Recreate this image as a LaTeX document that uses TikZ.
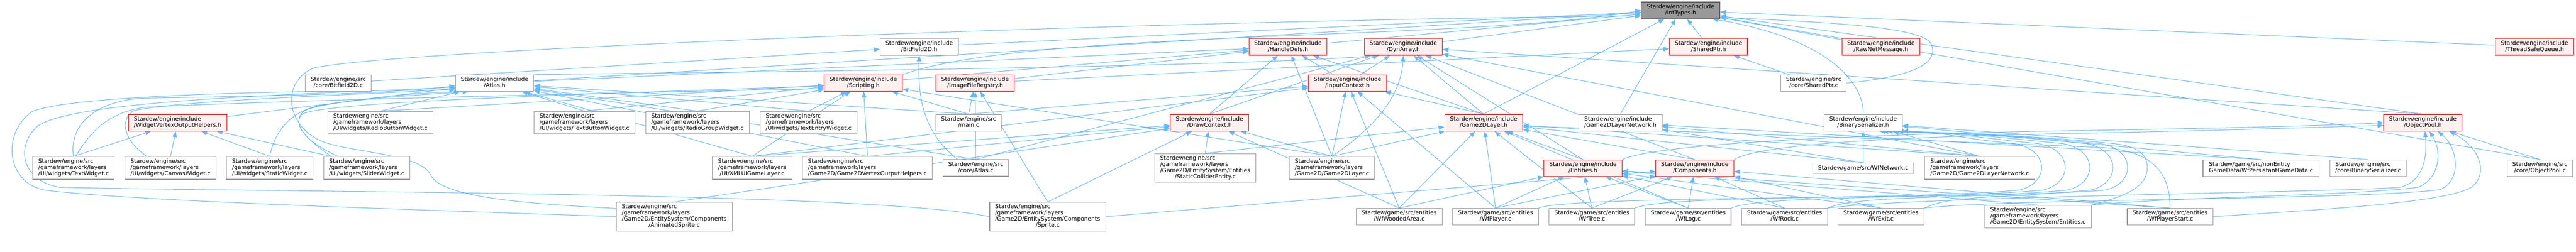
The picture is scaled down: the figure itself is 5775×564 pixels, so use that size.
\documentclass[tikz,border=0pt]{standalone}
\usepackage{fontspec}
\setmainfont{DejaVu Sans}
\usetikzlibrary{arrows.meta,backgrounds}
\definecolor{eblue}{HTML}{63B8FF}
\definecolor{rfill}{HTML}{FFF0F0}
\definecolor{gborder}{HTML}{999999}
\definecolor{rootfill}{HTML}{999999}
\definecolor{rootborder}{HTML}{666666}
\newcommand\TwoL[2]{\begin{tabular}{@{}l@{}}#1\\\multicolumn{1}{@{}c@{}}{#2}\end{tabular}}
\newcommand\ThreeL[3]{\begin{tabular}{@{}l@{}}#1\\#2\\\multicolumn{1}{@{}c@{}}{#3}\end{tabular}}
\newcommand\FourL[4]{\begin{tabular}{@{}l@{}}#1\\#2\\#3\\\multicolumn{1}{@{}c@{}}{#4}\end{tabular}}
\newcommand\LoopBS[3]{\draw[dep] (#1) .. controls +(70,30) and (#2-300,-448) .. (#2-60,-426) .. controls (#2+8,-410) and (#2+8,-336) .. (#2-70,-322) .. controls (#2-250,-304) and (4420,-300) .. (bsh.#3);}
\tikzset{
  base/.style={rectangle, inner sep=0pt, line width=1.3pt, font=\fontsize{12.8}{13.7}\selectfont, text=black},
  file/.style={base, draw=gborder, fill=white},
  hot/.style={base, draw=red, fill=rfill},
  root/.style={base, draw=rootborder, fill=rootfill},
  sz/.style 2 args={minimum width=#1pt, minimum height=#2pt},
  dep/.style={draw=eblue, line width=1.2pt, -{Triangle[length=13pt,width=10pt]}}
}
\begin{document}
\begin{tikzpicture}[x=1pt,y=1pt]
\useasboundingbox (0,0) rectangle (5775,-564);
% rank 1
\node[root, sz={175.6}{37.3}] (iT) at (3767.5,-23.3) {\TwoL{Stardew/engine/include}{/IntTypes.h}};
% rank 2
\node[file, sz={175}{37.3}] (bf2h) at (2060.8,-105) {\TwoL{Stardew/engine/include}{/BitField2D.h}};
\node[hot, sz={175}{37.3}] (hd) at (2887.3,-105) {\TwoL{Stardew/engine/include}{/HandleDefs.h}};
\node[hot, sz={175}{37.3}] (da) at (3146,-105) {\TwoL{Stardew/engine/include}{/DynArray.h}};
\node[hot, sz={175}{37.3}] (sph) at (3830.2,-105) {\TwoL{Stardew/engine/include}{/SharedPtr.h}};
\node[hot, sz={175}{37.3}] (rnm) at (4216.8,-105) {\TwoL{Stardew/engine/include}{/RawNetMessage.h}};
\node[hot, sz={175}{37.3}] (tsq) at (5682,-105) {\TwoL{Stardew/engine/include}{/ThreadSafeQueue.h}};
% rank 3
\node[file, sz={147}{36.7}] (bfc) at (758.2,-186.3) {\TwoL{Stardew/engine/src}{/core/Bitfield2D.c}};
\node[file, sz={175}{36.7}] (ah) at (1108.8,-186.3) {\TwoL{Stardew/engine/include}{/Atlas.h}};
\node[hot, sz={175}{36.7}] (sc) at (1935.3,-186.3) {\TwoL{Stardew/engine/include}{/Scripting.h}};
\node[hot, sz={175}{36.7}] (ifr) at (2186,-186.3) {\TwoL{Stardew/engine/include}{/ImageFileRegstry.h}};
\node[hot, sz={175}{36.7}] (ic) at (3020.8,-186.3) {\TwoL{Stardew/engine/include}{/InputContext.h}};
\node[file, sz={146.7}{36.7}] (spc) at (4066,-186.3) {\TwoL{Stardew/engine/src}{/core/SharedPtr.c}};
% rank 4
\node[hot, sz={220.3}{37.3}] (wvo) at (398.2,-275) {\TwoL{Stardew/engine/include}{/WidgetVertexOutputHelpers.h}};
\node[file, sz={235.3}{50.7}] (rbw) at (852.7,-275) {\ThreeL{Stardew/engine/src}{/gameframework/layers}{/UI/widgets/RadioButtonWidget.c}};
\node[file, sz={227}{50.7}] (tbw) at (1310.2,-275) {\ThreeL{Stardew/engine/src}{/gameframework/layers}{/UI/widgets/TextButtonWidget.c}};
\node[file, sz={232.3}{50.7}] (rgw) at (1563.5,-275) {\ThreeL{Stardew/engine/src}{/gameframework/layers}{/UI/widgets/RadioGroupWidget.c}};
\node[file, sz={217.7}{50.7}] (tew) at (1812.8,-275) {\ThreeL{Stardew/engine/src}{/gameframework/layers}{/UI/widgets/TextEntryWidget.c}};
\node[file, sz={147}{37.3}] (mainc) at (2171.5,-275) {\TwoL{Stardew/engine/src}{/main.c}};
\node[hot, sz={175.3}{37.3}] (dc) at (2711.3,-275) {\TwoL{Stardew/engine/include}{/DrawContext.h}};
\node[hot, sz={174.7}{37.3}] (g2h) at (3326,-275) {\TwoL{Stardew/engine/include}{/Game2DLayer.h}};
\node[file, sz={186.7}{37.3}] (g2nh) at (3632.7,-275) {\TwoL{Stardew/engine/include}{/Game2DLayerNetwork.h}};
\node[file, sz={175}{37.3}] (bsh) at (4176.8,-275) {\TwoL{Stardew/engine/include}{/BinarySerializer.h}};
\node[hot, sz={175}{37.3}] (oph) at (5431.5,-275) {\TwoL{Stardew/engine/include}{/ObjectPool.h}};
% rank 5
\node[file, sz={183}{51}] (tw) at (164.8,-376.5) {\ThreeL{Stardew/engine/src}{/gameframework/layers}{/UI/widgets/TextWidget.c}};
\node[file, sz={204.3}{51}] (cw) at (382.2,-376.5) {\ThreeL{Stardew/engine/src}{/gameframework/layers}{/UI/widgets/CanvasWidget.c}};
\node[file, sz={193.7}{51}] (stw) at (604.8,-376.5) {\ThreeL{Stardew/engine/src}{/gameframework/layers}{/UI/widgets/StaticWidget.c}};
\node[file, sz={193.3}{51}] (slw) at (822.3,-376.5) {\ThreeL{Stardew/engine/src}{/gameframework/layers}{/UI/widgets/SliderWidget.c}};
\node[file, sz={179}{51}] (xml) at (1686.2,-376.5) {\ThreeL{Stardew/engine/src}{/gameframework/layers}{/UI/XMLUIGameLayer.c}};
\node[file, sz={290.7}{51}] (g2vo) at (1944.7,-376.5) {\ThreeL{Stardew/engine/src}{/gameframework/layers}{/Game2D/Game2DVertexOutputHelpers.c}};
\node[file, sz={147}{37}] (atc) at (2187.5,-376.5) {\TwoL{Stardew/engine/src}{/core/Atlas.c}};
\node[file, sz={226.7}{64.4}] (sce) at (2702,-376.5) {\FourL{Stardew/engine/src}{/gameframework/layers}{/Game2D/EntitySystem/Entities}{/StaticColliderEntity.c}};
\node[file, sz={190.7}{51}] (g2c) at (2986,-376.5) {\ThreeL{Stardew/engine/src}{/gameframework/layers}{/Game2D/Game2DLayer.c}};
\node[hot, sz={174.7}{37}] (enh) at (3548.7,-376.8) {\TwoL{Stardew/engine/include}{/Entities.h}};
\node[hot, sz={175}{37}] (coh) at (3799.5,-376.8) {\TwoL{Stardew/engine/include}{/Components.h}};
\node[file, sz={226.7}{23.4}] (wfn) at (4177,-377) {Stardew/game/src/WfNetwork.c};
\node[file, sz={247}{51}] (g2nc) at (4438.2,-376.5) {\ThreeL{Stardew/engine/src}{/gameframework/layers}{/Game2D/Game2DLayerNetwork.c}};
\node[file, sz={260.3}{37}] (wpg) at (5068.8,-376.8) {\TwoL{Stardew/game/src/nonEntity}{GameData/WfPersistantGameData.c}};
\node[file, sz={171}{37}] (bsc) at (5308.8,-376.8) {\TwoL{Stardew/engine/src}{/core/BinarySerializer.c}};
\node[file, sz={147}{37}] (opc) at (5694.2,-376.8) {\TwoL{Stardew/engine/src}{/core/ObjectPool.c}};
% rank 6
\node[file, sz={260.3}{64.4}] (asp) at (1511.5,-485.5) {\FourL{Stardew/engine/src}{/gameframework/layers}{/Game2D/EntitySystem/Components}{/AnimatedSprite.c}};
\node[file, sz={260}{64.4}] (spr) at (2348.7,-485.5) {\FourL{Stardew/engine/src}{/gameframework/layers}{/Game2D/EntitySystem/Components}{/Sprite.c}};
\node[file, sz={192.3}{37}] (wwa) at (3136.8,-485.5) {\TwoL{Stardew/game/src/entities}{/WfWoodedArea.c}};
\node[file, sz={192.3}{37}] (wpl) at (3352.8,-485.5) {\TwoL{Stardew/game/src/entities}{/WfPlayer.c}};
\node[file, sz={192}{37}] (wtr) at (3568.7,-485.5) {\TwoL{Stardew/game/src/entities}{/WfTree.c}};
\node[file, sz={192}{37}] (wlg) at (3784.7,-485.5) {\TwoL{Stardew/game/src/entities}{/WfLog.c}};
\node[file, sz={192.3}{37}] (wrk) at (4000.8,-485.5) {\TwoL{Stardew/game/src/entities}{/WfRock.c}};
\node[file, sz={192.3}{37}] (wex) at (4216.8,-485.5) {\TwoL{Stardew/game/src/entities}{/WfExit.c}};
\node[file, sz={239}{50.4}] (ec) at (4568.8,-485.5) {\ThreeL{Stardew/engine/src}{/gameframework/layers}{/Game2D/EntitySystem/Entities.c}};
\node[file, sz={192}{37}] (wps) at (4865,-485.5) {\TwoL{Stardew/game/src/entities}{/WfPlayerStart.c}};

\begin{scope}[on background layer]
% into IntTypes.h
\draw[dep] (bf2h) -- (iT);
\draw[dep] (hd) -- (iT);
\draw[dep] (da) -- (iT);
\draw[dep] (sph) -- (iT);
\draw[dep] (rnm) -- (iT);
\draw[dep] (tsq) -- (iT);
\draw[dep] (ah) -- (iT);
\draw[dep] (sc.north east) .. controls (2305,-65) and (3286,-93) .. (iT.west);
\draw[dep] (g2h.north) -- (iT);
\draw[dep] (g2nh.north) -- (iT);
\draw[dep] (bsh.north) .. controls (4180,-200) and (4120,-90) .. (iT.-15);
\draw[dep] (oph.north) -- (iT);
\draw[dep] (opc.north) -- (iT);
\draw[dep] (spc.east) .. controls (4300,-170) and (4345,-140) .. (4330,-100) .. controls (4315,-60) and (4100,-50) .. (iT.-10);
\draw[dep] (asp.172) .. controls (1150,-455) and (990,-440) .. (965,-392) .. controls (945,-345) and (790,-342) .. (725,-318) .. controls (640,-285) and (628,-182) .. (705,-152) .. controls (900,-110) and (2600,-45) .. (iT.-172);
% rank 3 sources
\draw[dep] (bfc) -- (bf2h);
\draw[dep] (ah) -- (hd);
\draw[dep] (ah.north east) .. controls (1800,-160) and (2750,-150) .. (da.-160);
\draw[dep] (sc) -- (hd);
\draw[dep] (ifr) -- (hd);
\draw[dep] (ifr) -- (sph);
\draw[dep] (ic) -- (hd);
\draw[dep] (ic) -- (da);
\draw[dep] (spc) -- (sph);
% rank 4 sources
\draw[dep] (wvo) -- (ah);
\draw[dep] (rbw.north) -- (ah);
\draw[dep] (rbw.north) -- (sc);
\draw[dep] (tbw.north) -- (ah);
\draw[dep] (tbw.north) -- (sc);
\draw[dep] (rgw.north) -- (ah);
\draw[dep] (rgw.north) -- (sc);
\draw[dep] (tew.north) -- (sc);
\draw[dep] (tew.north) -- (ah);
\draw[dep] (mainc.north) -- (sc);
\draw[dep] (mainc.north) -- (ifr);
\draw[dep] (mainc.north) -- (ic);
\draw[dep] (mainc.north) -- (ah);
\draw[dep] (dc.north) -- (hd);
\draw[dep] (dc.north) -- (da);
\draw[dep] (g2h.north) -- (hd);
\draw[dep] (g2h.north) -- (da);
\draw[dep] (g2h.north) -- (ic);
\draw[dep] (oph.north) -- (da);
% rank 5 sources
\draw[dep] (tw.north) -- (wvo);
\draw[dep] (tw.north) .. controls (155,-290) and (200,-228) .. (320,-220) .. controls (600,-215) and (850,-212) .. (ah.-176);
\draw[dep] (tw.80) .. controls (200,-300) and (240,-250) .. (330,-240) .. controls (700,-222) and (1500,-206) .. (sc.-172);
\draw[dep] (cw.north) -- (wvo);
\draw[dep] (cw.154) .. controls (285,-320) and (262,-272) .. (300,-248) .. controls (420,-222) and (850,-212) .. (ah.-172);
\draw[dep] (stw.north) -- (wvo);
\draw[dep] (stw.north) .. controls (612,-310) and (640,-250) .. (720,-236) .. controls (850,-215) and (950,-208) .. (ah.-166);
\draw[dep] (slw.162) -- (wvo);
\draw[dep] (slw.158) .. controls (690,-320) and (650,-280) .. (680,-250) .. controls (720,-225) and (950,-212) .. (ah.-162);
\draw[dep] (slw.162) .. controls (700,-320) and (655,-285) .. (675,-258) .. controls (700,-228) and (1300,-212) .. (sc.-176);
\draw[dep] (xml.north) -- (ah);
\draw[dep] (xml.north) -- (sc);
\draw[dep] (xml.north) -- (dc);
\draw[dep] (xml.north) -- (ic);
\draw[dep] (g2vo.north) -- (dc);
\draw[dep] (g2vo.north) -- (ah);
\draw[dep] (g2vo.north) -- (sc);
\draw[dep] (atc.155) .. controls (2075,-300) and (2057,-230) .. (bf2h.south);
\draw[dep] (atc.north) -- (ifr);
\draw[dep] (atc.north) -- (ah);
\draw[dep] (atc.north) -- (da);
\draw[dep] (sce.north) -- (dc);
\draw[dep] (sce.north) -- (g2h);
\draw[dep] (g2c.north) -- (g2h);
\draw[dep] (g2c.north) .. controls (3060,-300) and (3140,-230) .. (da.south);
\draw[dep] (g2c.north) -- (ic);
\draw[dep] (g2c.north) -- (dc);
\draw[dep] (g2c.north) -- (sc);
\draw[dep] (g2c.north) -- (hd);
\draw[dep] (enh.north) -- (g2h);
\draw[dep] (enh.north) -- (da);
\draw[dep] (enh.north east) .. controls (3720,-320) and (4200,-300) .. (4700,-292) .. controls (5000,-287) and (5200,-282) .. (oph.west);
\draw[dep] (coh.north) -- (g2h);
\draw[dep] (coh.north) -- (da);
\draw[dep] (coh.north east) .. controls (3950,-320) and (4300,-305) .. (4700,-298) .. controls (5000,-292) and (5200,-285) .. (oph.-176);
\draw[dep] (wfn.north) -- (bsh);
\draw[dep] (wfn.north) -- (g2nh);
\draw[dep] (wfn.north) -- (g2h);
\draw[dep] (g2nc.north) -- (g2nh);
\draw[dep] (g2nc.north) -- (bsh);
\draw[dep] (g2nc.north) -- (g2h);
\draw[dep] (g2nc.north) -- (da);
\draw[dep] (wpg.north) -- (bsh);
\draw[dep] (wpg.north) -- (g2nh);
\draw[dep] (bsc.north) -- (bsh);
\draw[dep] (opc.north) -- (oph);
% rank 6 sources
\draw[dep] (asp.west) .. controls (1000,-472) and (300,-452) .. (100,-426) .. controls (15,-410) and (2,-300) .. (72,-250) .. controls (170,-210) and (700,-203) .. (ah.-170);
\draw[dep] (spr.west) .. controls (1950,-430) and (700,-432) .. (135,-420) .. controls (45,-405) and (35,-325) .. (85,-282) .. controls (170,-225) and (650,-212) .. (ah.-174);
\draw[dep] (asp.north) -- (dc);
\draw[dep] (spr.north) -- (dc);
\draw[dep] (spr.north) -- (ifr);
\draw[dep] (spr.east) -- (coh);
\draw[dep] (wwa.north) -- (g2h);
\draw[dep] (wwa.north) -- (enh);
\draw[dep] (wwa.north) -- (dc);
\draw[dep] (wwa.north) -- (ic);
\draw[dep] (wpl.north) -- (g2h);
\draw[dep] (wpl.north) -- (enh);
\draw[dep] (wpl.north) -- (coh);
\draw[dep] (wpl.north) -- (ic);
\draw[dep] (wtr.north) -- (enh);
\draw[dep] (wtr.north) -- (coh);
\draw[dep] (wtr.north) -- (g2h);
\draw[dep] (wlg.north) -- (enh);
\draw[dep] (wlg.north) -- (coh);
\draw[dep] (wlg.north) -- (g2h);
\draw[dep] (wrk.north) -- (enh);
\draw[dep] (wrk.north) -- (coh);
\draw[dep] (wex.north) -- (enh);
\draw[dep] (wex.north) -- (coh);
\draw[dep] (ec.north) -- (enh);
\draw[dep] (wps.north) -- (enh);
\draw[dep] (wps.north) -- (coh);
\draw[dep] (wps.north) .. controls (4865,-390) and (4830,-335) .. (4700,-330) .. controls (4200,-310) and (3700,-292) .. (g2h.-5);
\LoopBS{wtr.north east}{4587}{-28}
\LoopBS{wlg.north east}{4640}{-24}
\LoopBS{wrk.north east}{4695}{-20}
\LoopBS{wex.north east}{4747}{-17}
\LoopBS{wpl.north east}{4780}{-14}
\draw[dep] (ec.north east) .. controls (4740,-445) and (4800,-430) .. (4812,-390) .. controls (4822,-345) and (4790,-328) .. (4740,-322) .. controls (4560,-304) and (4420,-300) .. (bsh.-12);
\draw[dep] (wrk.north east) .. controls (4300,-440) and (5200,-432) .. (5380,-420) .. controls (5440,-405) and (5440,-340) .. (oph.-76);
\draw[dep] (ec.north east) .. controls (4900,-440) and (5250,-440) .. (5420,-420) .. controls (5470,-400) and (5475,-340) .. (oph.-52);
\draw[dep] (wex.north east) .. controls (4500,-445) and (5300,-448) .. (5470,-425) .. controls (5520,-405) and (5510,-330) .. (oph.-30);
\draw[dep] (wps.east) .. controls (5200,-470) and (5480,-455) .. (5540,-420) .. controls (5580,-390) and (5560,-330) .. (oph.-18);
\end{scope}
\end{tikzpicture}
\end{document}
